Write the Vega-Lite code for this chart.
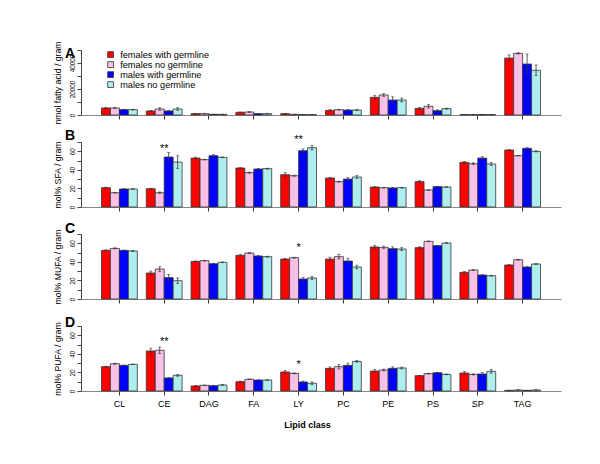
{
  "$schema": "https://vega.github.io/schema/vega-lite/v6.json",
  "background": "white",
  "padding": {"left": 52, "top": 40, "right": 5, "bottom": 5},
  "config": {
    "font": "Liberation Sans",
    "view": {"stroke": null},
    "axis": {"grid": false, "labelFont": "Liberation Sans", "titleFont": "Liberation Sans", "labelColor": "black", "titleColor": "black", "titleFontWeight": "normal", "domainColor": "#444", "tickColor": "#444"},
    "title": {"anchor": "start", "frame": "group", "fontSize": 14, "fontWeight": "bold", "dx": -16, "font": "Liberation Sans", "color": "black"}
  },
  "bounds": "flush",
  "spacing": 27,
  "resolve": {"scale": {"color": "independent", "y": "independent"}, "legend": {"color": "independent"}},
  "datasets": {
    "A": [
      {"c":"CL","g":"FG","v":5400,"e":400},{"c":"CL","g":"FN","v":5400,"e":500},{"c":"CL","g":"MG","v":4100,"e":300},{"c":"CL","g":"MN","v":4100,"e":300},
      {"c":"CE","g":"FG","v":3100,"e":300},{"c":"CE","g":"FN","v":4600,"e":1000},{"c":"CE","g":"MG","v":3100,"e":300},{"c":"CE","g":"MN","v":4600,"e":1000},
      {"c":"DAG","g":"FG","v":1000,"e":100},{"c":"DAG","g":"FN","v":1000,"e":100},{"c":"DAG","g":"MG","v":500,"e":100},{"c":"DAG","g":"MN","v":500,"e":100},
      {"c":"FA","g":"FG","v":2100,"e":200},{"c":"FA","g":"FN","v":2300,"e":400},{"c":"FA","g":"MG","v":1000,"e":100},{"c":"FA","g":"MN","v":1000,"e":100},
      {"c":"LY","g":"FG","v":1000,"e":100},{"c":"LY","g":"FN","v":500,"e":100},{"c":"LY","g":"MG","v":300,"e":100},{"c":"LY","g":"MN","v":300,"e":100},
      {"c":"PC","g":"FG","v":3600,"e":400},{"c":"PC","g":"FN","v":4100,"e":300},{"c":"PC","g":"MG","v":3800,"e":500},{"c":"PC","g":"MN","v":3800,"e":500},
      {"c":"PE","g":"FG","v":13600,"e":1500},{"c":"PE","g":"FN","v":15400,"e":1000},{"c":"PE","g":"MG","v":11500,"e":2500},{"c":"PE","g":"MN","v":11500,"e":1500},
      {"c":"PS","g":"FG","v":5100,"e":700},{"c":"PS","g":"FN","v":6700,"e":1300},{"c":"PS","g":"MG","v":3300,"e":700},{"c":"PS","g":"MN","v":4900,"e":400},
      {"c":"SP","g":"FG","v":300,"e":50},{"c":"SP","g":"FN","v":300,"e":50},{"c":"SP","g":"MG","v":300,"e":50},{"c":"SP","g":"MN","v":300,"e":50},
      {"c":"TAG","g":"FG","v":43800,"e":2400},{"c":"TAG","g":"FN","v":47400,"e":500},{"c":"TAG","g":"MG","v":39200,"e":7700},{"c":"TAG","g":"MN","v":34400,"e":4100}
    ],
    "B": [
      {"c":"CL","g":"FG","v":20.8,"e":0.5},{"c":"CL","g":"FN","v":15.4,"e":0.4},{"c":"CL","g":"MG","v":19.4,"e":0.3},{"c":"CL","g":"MN","v":19.4,"e":0.3},
      {"c":"CE","g":"FG","v":19.7,"e":0.5},{"c":"CE","g":"FN","v":15.4,"e":0.8},{"c":"CE","g":"MG","v":53.8,"e":4.8},{"c":"CE","g":"MN","v":48.4,"e":6.8},
      {"c":"DAG","g":"FG","v":52.7,"e":1},{"c":"DAG","g":"FN","v":51,"e":0.3},{"c":"DAG","g":"MG","v":55.3,"e":1},{"c":"DAG","g":"MN","v":53.5,"e":0.4},
      {"c":"FA","g":"FG","v":42,"e":0.6},{"c":"FA","g":"FN","v":37,"e":0.6},{"c":"FA","g":"MG","v":40.9,"e":0.6},{"c":"FA","g":"MN","v":41.3,"e":0.5},
      {"c":"LY","g":"FG","v":34.8,"e":2.5},{"c":"LY","g":"FN","v":33.7,"e":0.6},{"c":"LY","g":"MG","v":60.6,"e":2},{"c":"LY","g":"MN","v":63.9,"e":2.5},
      {"c":"PC","g":"FG","v":31.2,"e":0.8},{"c":"PC","g":"FN","v":27.3,"e":0.5},{"c":"PC","g":"MG","v":30.1,"e":1.5},{"c":"PC","g":"MN","v":32.3,"e":1.5},
      {"c":"PE","g":"FG","v":21.5,"e":0.3},{"c":"PE","g":"FN","v":20.8,"e":0.3},{"c":"PE","g":"MG","v":20.5,"e":0.4},{"c":"PE","g":"MN","v":20.8,"e":0.4},
      {"c":"PS","g":"FG","v":27.3,"e":1},{"c":"PS","g":"FN","v":18.3,"e":0.3},{"c":"PS","g":"MG","v":21.9,"e":0.4},{"c":"PS","g":"MN","v":21.5,"e":0.3},
      {"c":"SP","g":"FG","v":48.1,"e":1},{"c":"SP","g":"FN","v":46.6,"e":1},{"c":"SP","g":"MG","v":52.7,"e":1.5},{"c":"SP","g":"MN","v":46.3,"e":1.5},
      {"c":"TAG","g":"FG","v":61.4,"e":0.3},{"c":"TAG","g":"FN","v":55.3,"e":0.3},{"c":"TAG","g":"MG","v":63.2,"e":0.6},{"c":"TAG","g":"MN","v":59.9,"e":0.6}
    ],
    "C": [
      {"c":"CL","g":"FG","v":52.4,"e":0.5},{"c":"CL","g":"FN","v":54.5,"e":0.6},{"c":"CL","g":"MG","v":52.4,"e":0.3},{"c":"CL","g":"MN","v":51.7,"e":0.4},
      {"c":"CE","g":"FG","v":28,"e":2},{"c":"CE","g":"FN","v":32.3,"e":2.5},{"c":"CE","g":"MG","v":23,"e":3.5},{"c":"CE","g":"MN","v":19.7,"e":3},
      {"c":"DAG","g":"FG","v":40.5,"e":0.4},{"c":"DAG","g":"FN","v":41.3,"e":0.4},{"c":"DAG","g":"MG","v":38,"e":0.5},{"c":"DAG","g":"MN","v":39.5,"e":0.4},
      {"c":"FA","g":"FG","v":47,"e":1},{"c":"FA","g":"FN","v":49.5,"e":0.6},{"c":"FA","g":"MG","v":46.3,"e":0.6},{"c":"FA","g":"MN","v":45.6,"e":0.5},
      {"c":"LY","g":"FG","v":43,"e":0.6},{"c":"LY","g":"FN","v":44.5,"e":0.5},{"c":"LY","g":"MG","v":21.5,"e":1.5},{"c":"LY","g":"MN","v":22.6,"e":1.5},
      {"c":"PC","g":"FG","v":43,"e":2},{"c":"PC","g":"FN","v":45.6,"e":2.5},{"c":"PC","g":"MG","v":40.9,"e":3},{"c":"PC","g":"MN","v":34.4,"e":2},
      {"c":"PE","g":"FG","v":56,"e":1.5},{"c":"PE","g":"FN","v":55.6,"e":1.5},{"c":"PE","g":"MG","v":54.2,"e":2},{"c":"PE","g":"MN","v":53.8,"e":1.5},
      {"c":"PS","g":"FG","v":55.3,"e":1},{"c":"PS","g":"FN","v":62.1,"e":0.4},{"c":"PS","g":"MG","v":57.4,"e":0.3},{"c":"PS","g":"MN","v":60.3,"e":0.3},
      {"c":"SP","g":"FG","v":28.7,"e":1},{"c":"SP","g":"FN","v":31.2,"e":0.4},{"c":"SP","g":"MG","v":25.8,"e":0.4},{"c":"SP","g":"MN","v":25.1,"e":0.5},
      {"c":"TAG","g":"FG","v":36.6,"e":0.3},{"c":"TAG","g":"FN","v":42.3,"e":0.5},{"c":"TAG","g":"MG","v":34.4,"e":0.5},{"c":"TAG","g":"MN","v":37.7,"e":0.6}
    ],
    "D": [
      {"c":"CL","g":"FG","v":26.2,"e":0.5},{"c":"CL","g":"FN","v":29.4,"e":0.6},{"c":"CL","g":"MG","v":27.6,"e":0.3},{"c":"CL","g":"MN","v":28.7,"e":0.3},
      {"c":"CE","g":"FG","v":43.1,"e":3},{"c":"CE","g":"FN","v":43.8,"e":3.5},{"c":"CE","g":"MG","v":14,"e":0.7},{"c":"CE","g":"MN","v":16.9,"e":1},
      {"c":"DAG","g":"FG","v":5.4,"e":0.4},{"c":"DAG","g":"FN","v":6.1,"e":0.3},{"c":"DAG","g":"MG","v":5.7,"e":0.4},{"c":"DAG","g":"MN","v":6.5,"e":0.7},
      {"c":"FA","g":"FG","v":10,"e":0.7},{"c":"FA","g":"FN","v":12.6,"e":0.3},{"c":"FA","g":"MG","v":11.8,"e":0.3},{"c":"FA","g":"MN","v":11.8,"e":0.3},
      {"c":"LY","g":"FG","v":20.5,"e":1.5},{"c":"LY","g":"FN","v":19,"e":0.5},{"c":"LY","g":"MG","v":9.7,"e":1},{"c":"LY","g":"MN","v":8.3,"e":1.5},
      {"c":"PC","g":"FG","v":24.4,"e":1.5},{"c":"PC","g":"FN","v":26.2,"e":2.5},{"c":"PC","g":"MG","v":27.6,"e":2.5},{"c":"PC","g":"MN","v":31.9,"e":1},
      {"c":"PE","g":"FG","v":21.5,"e":1.5},{"c":"PE","g":"FN","v":22.6,"e":1},{"c":"PE","g":"MG","v":24.4,"e":1.5},{"c":"PE","g":"MN","v":24.8,"e":1},
      {"c":"PS","g":"FG","v":16.5,"e":0.3},{"c":"PS","g":"FN","v":18.7,"e":0.4},{"c":"PS","g":"MG","v":19.7,"e":0.5},{"c":"PS","g":"MN","v":17.9,"e":0.4},
      {"c":"SP","g":"FG","v":19.4,"e":1.5},{"c":"SP","g":"FN","v":17.9,"e":0.6},{"c":"SP","g":"MG","v":18.3,"e":1.5},{"c":"SP","g":"MN","v":21.2,"e":2},
      {"c":"TAG","g":"FG","v":0.7,"e":0.1},{"c":"TAG","g":"FN","v":1.1,"e":0.1},{"c":"TAG","g":"MG","v":0.7,"e":0.1},{"c":"TAG","g":"MN","v":1.1,"e":0.1}
    ],
    "sB": [{"c":"CE","v":59,"s":"**"},{"c":"LY","v":69,"s":"**"}],
    "sC": [{"c":"LY","v":51.3,"s":"*"}],
    "sD": [{"c":"CE","v":49.2,"s":"**"},{"c":"LY","v":24.8,"s":"*"}]
  },
  "vconcat": [
    {
      "title": {"text": "A", "offset": -20},
      "width": 480, "height": 65,
      "data": {"name": "A"},
      "encoding": {
        "x": {"field": "c", "type": "nominal", "sort": ["CL","CE","DAG","FA","LY","PC","PE","PS","SP","TAG"], "scale": {"paddingInner": 0.2, "paddingOuter": 0.457}, "axis": {"title": null, "labels": false, "tickSize": 4, "domainColor": "#888", "tickColor": "#333"}},
        "y": {"field": "v", "type": "quantitative", "scale": {"domain": [0, 50000]}, "axis": {"title": "nmol fatty acid / gram", "values": [0,10000,20000,30000,40000,50000], "format": "d", "labelExpr": "datum.value % 20000 == 0 ? datum.label : ''", "labelAngle": -90, "labelAlign": "center", "labelBaseline": "bottom", "labelFontSize": 6.3, "labelPadding": 2, "tickSize": 4, "titleFontSize": 8.7, "titlePadding": 7}}
      },
      "layer": [
        {
          "mark": {"type": "bar", "stroke": "#333", "strokeWidth": 0.8},
          "encoding": {
            "y2": {"datum": 0},
            "xOffset": {"field": "g", "type": "nominal", "sort": ["FG","FN","MG","MN"], "scale": {"paddingInner": 0, "paddingOuter": 0}},
            "color": {"field": "g", "type": "nominal", "scale": {"domain": ["FG","FN","MG","MN"], "range": ["#FF0000","#F9C1E6","#0000FF","#AFEEEE"]},
              "legend": {"orient": "none", "legendX": 25, "legendY": 0, "title": null, "symbolType": "square", "symbolSize": 34, "symbolStrokeColor": "#333", "symbolStrokeWidth": 0.8, "labelFontSize": 9.2, "labelFont": "Liberation Sans", "labelColor": "black", "rowPadding": 0, "labelOffset": 5, "padding": 0,
                "labelExpr": "{'FG':'females with germline','FN':'females no germline','MG':'males with germline','MN':'males no germline'}[datum.label]"}}
          }
        },
        {
          "mark": {"type": "errorbar", "ticks": {"size": 3, "color": "#333"}, "rule": {"color": "#333"}, "thickness": 0.8},
          "encoding": {
            "yError": {"field": "e"},
            "xOffset": {"field": "g", "type": "nominal", "sort": ["FG","FN","MG","MN"], "scale": {"paddingInner": 0, "paddingOuter": 0}}
          }
        }
      ]
    },
    {
      "title": {"text": "B", "offset": -9},
      "width": 480, "height": 65,
      "data": {"name": "B"},
      "encoding": {
        "x": {"field": "c", "type": "nominal", "sort": ["CL","CE","DAG","FA","LY","PC","PE","PS","SP","TAG"], "scale": {"paddingInner": 0.2, "paddingOuter": 0.457}, "axis": {"title": null, "labels": false, "tickSize": 4, "domainColor": "#888", "tickColor": "#333"}},
        "y": {"field": "v", "type": "quantitative", "scale": {"domain": [0, 70]}, "axis": {"title": "mol% SFA / gram", "values": [0,10,20,30,40,50,60,70], "labelExpr": "datum.value % 20 == 0 ? datum.label : ''", "labelAngle": -90, "labelAlign": "center", "labelBaseline": "bottom", "labelFontSize": 6.3, "labelPadding": 2, "tickSize": 4, "titleFontSize": 8.7, "titlePadding": 7}}
      },
      "layer": [
        {
          "mark": {"type": "bar", "stroke": "#333", "strokeWidth": 0.8},
          "encoding": {
            "y2": {"datum": 0},
            "xOffset": {"field": "g", "type": "nominal", "sort": ["FG","FN","MG","MN"], "scale": {"paddingInner": 0, "paddingOuter": 0}},
            "color": {"field": "g", "type": "nominal", "scale": {"domain": ["FG","FN","MG","MN"], "range": ["#FF0000","#F9C1E6","#0000FF","#AFEEEE"]}, "legend": null}
          }
        },
        {
          "mark": {"type": "errorbar", "ticks": {"size": 3, "color": "#333"}, "rule": {"color": "#333"}, "thickness": 0.8},
          "encoding": {
            "yError": {"field": "e"},
            "xOffset": {"field": "g", "type": "nominal", "sort": ["FG","FN","MG","MN"], "scale": {"paddingInner": 0, "paddingOuter": 0}}
          }
        },
        {
          "data": {"name": "sB"},
          "mark": {"type": "text", "fontSize": 11, "baseline": "alphabetic", "font": "Liberation Sans", "color": "black"},
          "encoding": {"text": {"field": "s"}}
        }
      ]
    },
    {
      "title": {"text": "C", "offset": -7},
      "width": 480, "height": 65,
      "data": {"name": "C"},
      "encoding": {
        "x": {"field": "c", "type": "nominal", "sort": ["CL","CE","DAG","FA","LY","PC","PE","PS","SP","TAG"], "scale": {"paddingInner": 0.2, "paddingOuter": 0.457}, "axis": {"title": null, "labels": false, "tickSize": 4, "domainColor": "#888", "tickColor": "#333"}},
        "y": {"field": "v", "type": "quantitative", "scale": {"domain": [0, 70]}, "axis": {"title": "mol% MUFA / gram", "values": [0,10,20,30,40,50,60,70], "labelExpr": "datum.value % 20 == 0 ? datum.label : ''", "labelAngle": -90, "labelAlign": "center", "labelBaseline": "bottom", "labelFontSize": 6.3, "labelPadding": 2, "tickSize": 4, "titleFontSize": 8.7, "titlePadding": 7}}
      },
      "layer": [
        {
          "mark": {"type": "bar", "stroke": "#333", "strokeWidth": 0.8},
          "encoding": {
            "y2": {"datum": 0},
            "xOffset": {"field": "g", "type": "nominal", "sort": ["FG","FN","MG","MN"], "scale": {"paddingInner": 0, "paddingOuter": 0}},
            "color": {"field": "g", "type": "nominal", "scale": {"domain": ["FG","FN","MG","MN"], "range": ["#FF0000","#F9C1E6","#0000FF","#AFEEEE"]}, "legend": null}
          }
        },
        {
          "mark": {"type": "errorbar", "ticks": {"size": 3, "color": "#333"}, "rule": {"color": "#333"}, "thickness": 0.8},
          "encoding": {
            "yError": {"field": "e"},
            "xOffset": {"field": "g", "type": "nominal", "sort": ["FG","FN","MG","MN"], "scale": {"paddingInner": 0, "paddingOuter": 0}}
          }
        },
        {
          "data": {"name": "sC"},
          "mark": {"type": "text", "fontSize": 11, "baseline": "alphabetic", "font": "Liberation Sans", "color": "black"},
          "encoding": {"text": {"field": "s"}}
        }
      ]
    },
    {
      "title": {"text": "D", "offset": -8.7},
      "width": 480, "height": 65,
      "data": {"name": "D"},
      "encoding": {
        "x": {"field": "c", "type": "nominal", "sort": ["CL","CE","DAG","FA","LY","PC","PE","PS","SP","TAG"], "scale": {"paddingInner": 0.2, "paddingOuter": 0.457}, "axis": {"title": "Lipid class", "labels": true, "labelAngle": 0, "labelFontSize": 9, "labelPadding": 4, "tickSize": 4, "domainColor": "#888", "tickColor": "#333", "titleFontSize": 9, "titleFontWeight": "bold", "titlePadding": 12, "titleX": 226}},
        "y": {"field": "v", "type": "quantitative", "scale": {"domain": [0, 70]}, "axis": {"title": "mol% PUFA / gram", "values": [0,10,20,30,40,50,60,70], "labelExpr": "datum.value % 20 == 0 ? datum.label : ''", "labelAngle": -90, "labelAlign": "center", "labelBaseline": "bottom", "labelFontSize": 6.3, "labelPadding": 2, "tickSize": 4, "titleFontSize": 8.7, "titlePadding": 7}}
      },
      "layer": [
        {
          "mark": {"type": "bar", "stroke": "#333", "strokeWidth": 0.8},
          "encoding": {
            "y2": {"datum": 0},
            "xOffset": {"field": "g", "type": "nominal", "sort": ["FG","FN","MG","MN"], "scale": {"paddingInner": 0, "paddingOuter": 0}},
            "color": {"field": "g", "type": "nominal", "scale": {"domain": ["FG","FN","MG","MN"], "range": ["#FF0000","#F9C1E6","#0000FF","#AFEEEE"]}, "legend": null}
          }
        },
        {
          "mark": {"type": "errorbar", "ticks": {"size": 3, "color": "#333"}, "rule": {"color": "#333"}, "thickness": 0.8},
          "encoding": {
            "yError": {"field": "e"},
            "xOffset": {"field": "g", "type": "nominal", "sort": ["FG","FN","MG","MN"], "scale": {"paddingInner": 0, "paddingOuter": 0}}
          }
        },
        {
          "data": {"name": "sD"},
          "mark": {"type": "text", "fontSize": 11, "baseline": "alphabetic", "font": "Liberation Sans", "color": "black"},
          "encoding": {"text": {"field": "s"}}
        }
      ]
    }
  ]
}
